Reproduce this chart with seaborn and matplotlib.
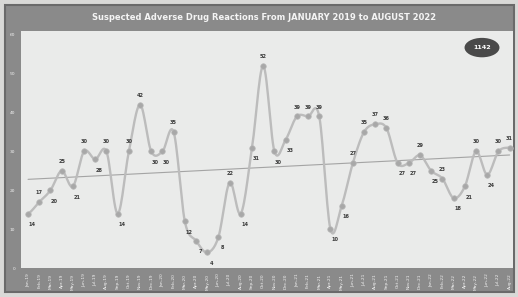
import numpy as np
import pandas as pd
import seaborn as sns
import matplotlib.pyplot as plt
from matplotlib.patches import Rectangle, Ellipse

# Monthly counts, Jan 2019 .. Aug 2022
months = ["Jan", "Feb", "Mar", "Apr", "May", "Jun", "Jul", "Aug", "Sep", "Oct", "Nov", "Dec"]
years = [2019, 2020, 2021, 2022]
month_labels = [f"{m}-{str(y)[2:]}" for y in years for m in months][:44]
reactions = [14, 17, 20, 25, 21, 30, 28, 30, 14, 30,
             42, 30, 30, 35, 12, 7, 4, 8, 22, 14,
             31, 52, 30, 33, 39, 39, 39, 10, 16, 27,
             35, 37, 36, 27, 27, 29, 25, 23, 18, 21,
             30, 24, 30, 31]
total_label = "1142"
title = "Suspected Adverse Drug Reactions From JANUARY 2019 to AUGUST 2022"

df = pd.DataFrame({"idx": np.arange(len(reactions)), "count": reactions, "month": month_labels})


def smooth_curve(x, y, n=14):
    # catmull-rom through every point, just for the rounded look of the line
    p = np.concatenate([[y[0]], y, [y[-1]]]).astype(float)
    xs, ys = [], []
    t = np.linspace(0, 1, n, endpoint=False)
    for i in range(len(y) - 1):
        p0, p1, p2, p3 = p[i], p[i + 1], p[i + 2], p[i + 3]
        yy = 0.5 * (2 * p1 + (-p0 + p2) * t + (2 * p0 - 5 * p1 + 4 * p2 - p3) * t ** 2
                    + (-p0 + 3 * p1 - 3 * p2 + p3) * t ** 3)
        xs.extend(x[i] + t * (x[i + 1] - x[i]))
        ys.extend(yy)
    xs.append(x[-1])
    ys.append(y[-1])
    return pd.DataFrame({"idx": xs, "count": ys})


sns.set_style("white")
plt.rcParams["font.family"] = ["DejaVu Sans"]

W, H = 518, 297
fig = plt.figure(figsize=(W / 100, H / 100), dpi=100, facecolor="#d9d9d7")

# dark frame of the dashboard tile, behind the axes
fig.patches.append(Rectangle((5 / W, 5 / H), 509 / W, 287 / H, transform=fig.transFigure,
                             facecolor="#8a8a8a", edgecolor="#6a6a6a", lw=1.5, zorder=-5))
fig.text(264 / W, 1 - 17 / H, title, color="#f4f4f4", fontsize=6.0, fontweight="bold",
         ha="center", va="center")

ax = fig.add_axes([21 / W, 1 - 268 / H, 492 / W, 237 / H])
ax.set_zorder(2)
ax.set_facecolor("#eaebea")

line_df = smooth_curve(df["idx"].values, df["count"].values)
sns.lineplot(data=line_df, x="idx", y="count", sort=False, color="#bcbcbc", lw=1.7, ax=ax, zorder=2)
sns.scatterplot(data=df, x="idx", y="count", color="#a8a8a8", s=16, edgecolor="#bababa",
                linewidth=0.5, ax=ax, zorder=3)
sns.regplot(data=df, x="idx", y="count", scatter=False, ci=None, ax=ax,
            line_kws={"color": "#a4a4a4", "lw": 0.8, "zorder": 1})

vals = df["count"].values
for i, v in enumerate(vals):
    prev = vals[i - 1] if i > 0 else v
    nxt = vals[i + 1] if i < len(vals) - 1 else v
    if v >= (prev + nxt) / 2:
        off, va = (0, 5), "bottom"
    else:
        off, va = (3, -6), "top"
    ax.annotate(str(v), (i, v), xytext=off, textcoords="offset points", ha="center", va=va,
                fontsize=3.6, fontweight="bold", color="#3a3a3a")

ax.set_xlim(-0.63, 43.3)
ax.set_ylim(0, 61)
ax.set_xticks(df["idx"])
ax.set_xticklabels(df["month"], rotation=90, fontsize=3.2, color="#f2f2f2")
ax.set_yticks(range(0, 61, 10))
ax.set_yticklabels([str(v) for v in range(0, 61, 10)], fontsize=3.2, color="#f2f2f2")
ax.tick_params(length=0, pad=4)
ax.set_xlabel("")
ax.set_ylabel("")
for s in ax.spines.values():
    s.set_visible(False)

# total badge
ax.add_patch(Ellipse((0.937, 0.93), 0.071, 0.082, transform=ax.transAxes,
                     facecolor="#4a4a4a", edgecolor="none", zorder=5))
ax.text(0.937, 0.93, total_label, transform=ax.transAxes, color="white", fontsize=4.6,
        fontweight="bold", ha="center", va="center", zorder=6)

plt.savefig("out.png", dpi=100)
